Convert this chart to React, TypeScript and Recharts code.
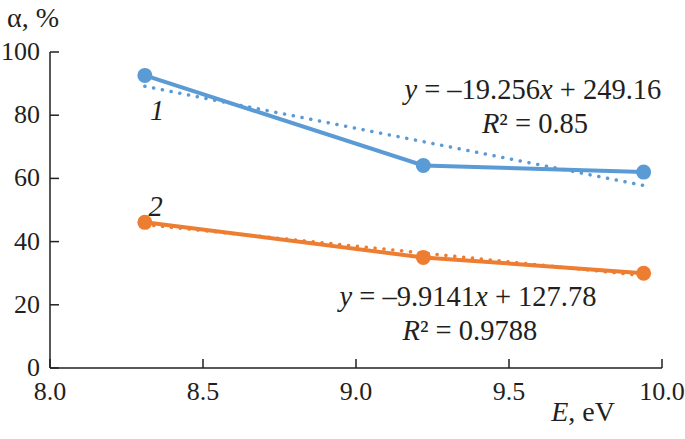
import React from 'react';
import { LineChart, Line, XAxis, YAxis, ReferenceDot } from 'recharts';

const energyBlue = [8.31, 9.22, 9.94];
const alphaBlue = [92.6, 64.1, 62.0];
const energyOrange = [8.31, 9.22, 9.94];
const alphaOrange = [46.1, 35.0, 30.0];
const slopeBlue = -19.256;
const interceptBlue = 249.16;
const slopeOrange = -9.9141;
const interceptOrange = 127.78;
const xTicks = [8.0, 8.5, 9.0, 9.5, 10.0];
const yTicks = [0, 20, 40, 60, 80, 100];

const BLUE = '#5B9BD5';
const ORANGE = '#ED7D31';
const AXIS = '#231F20';
const TXT = '#231F20';
const FONT = "'Liberation Serif', 'Times New Roman', 'DejaVu Serif', serif";
const TS: React.CSSProperties = { fontFamily: FONT, fontSize: 26 };
const AS: React.CSSProperties = { fontFamily: FONT, fontSize: 28.5 };
const LS: React.CSSProperties = { fontFamily: FONT, fontSize: 28 };

const blueData = energyBlue.map((x, i) => ({ x, y: alphaBlue[i] }));
const orangeData = energyOrange.map((x, i) => ({ x, y: alphaOrange[i] }));
const blueEnds = [energyBlue[0], energyBlue[energyBlue.length - 1]];
const orangeEnds = [energyOrange[0], energyOrange[energyOrange.length - 1]];
const blueTrend = blueEnds.map((x) => ({ x, y: slopeBlue * x + interceptBlue }));
const orangeTrend = orangeEnds.map((x) => ({ x, y: slopeOrange * x + interceptOrange }));

const XTick = (props: any) => {
  const { x, y, payload } = props;
  return (
    <g>
      <line x1={x} y1={y} x2={x} y2={y - 9} stroke={AXIS} strokeWidth={1.5} />
      <text x={x} y={y + 32} textAnchor="middle" style={TS} fill={TXT}>
        {Number(payload.value).toFixed(1)}
      </text>
    </g>
  );
};

const YTick = (props: any) => {
  const { x, y, payload } = props;
  return (
    <g>
      <line x1={x} y1={y} x2={x + 9} y2={y} stroke={AXIS} strokeWidth={1.5} />
      <text x={x - 10} y={y + 8} textAnchor="end" style={TS} fill={TXT}>
        {payload.value}
      </text>
    </g>
  );
};

const textShape = (content: React.ReactNode, anchor: string = 'middle') => (p: any) => (
  <text x={p.cx} y={p.cy + 9.5} textAnchor={anchor} style={AS} fill={TXT}>
    {content}
  </text>
);

export default function App() {
  return (
    <div style={{ position: 'absolute', left: 0, top: 0, fontFamily: FONT }}>
      <LineChart width={685} height={439} margin={{ top: 52, right: 23, bottom: 31, left: 0 }} style={{ fontFamily: FONT }}>
        <XAxis
          type="number"
          dataKey="x"
          domain={[8, 10]}
          ticks={xTicks}
          interval={0}
          height={40}
          tickSize={0}
          tickMargin={0}
          tickLine={false}
          tick={<XTick />}
          axisLine={{ stroke: AXIS, strokeWidth: 1.5 }}
          allowDataOverflow
          label={{
            content: (p: any) => (
              <text
                x={p.viewBox.x + p.viewBox.width - 47}
                y={p.viewBox.y + 53}
                textAnchor="end"
                style={LS}
                fill={TXT}
              >
                <tspan fontStyle="italic">E</tspan>, eV
              </text>
            ),
          }}
        />
        <YAxis
          type="number"
          domain={[0, 100]}
          ticks={yTicks}
          interval={0}
          width={50}
          tickSize={0}
          tickMargin={0}
          tickLine={false}
          tick={<YTick />}
          axisLine={{ stroke: AXIS, strokeWidth: 1.5 }}
          label={{
            content: (p: any) => (
              <text x={7} y={p.viewBox.y - 25} textAnchor="start" style={LS} fill={TXT}>
                α, %
              </text>
            ),
          }}
        />
        <Line
          data={blueTrend}
          dataKey="y"
          stroke={BLUE}
          strokeWidth={3.5}
          strokeDasharray="0.1 8.8"
          strokeLinecap="round"
          dot={false}
          activeDot={false}
          isAnimationActive={false}
        />
        <Line
          data={orangeTrend}
          dataKey="y"
          stroke={ORANGE}
          strokeWidth={3.5}
          strokeDasharray="0.1 8.8"
          strokeLinecap="round"
          dot={false}
          activeDot={false}
          isAnimationActive={false}
        />
        <Line
          data={blueData}
          dataKey="y"
          stroke={BLUE}
          strokeWidth={4}
          dot={{ r: 7.5, fill: BLUE, stroke: BLUE, strokeWidth: 0 }}
          activeDot={false}
          isAnimationActive={false}
        />
        <Line
          data={orangeData}
          dataKey="y"
          stroke={ORANGE}
          strokeWidth={4}
          dot={{ r: 7.5, fill: ORANGE, stroke: ORANGE, strokeWidth: 0 }}
          activeDot={false}
          isAnimationActive={false}
        />
        <ReferenceDot
          x={9.578}
          y={88}
          r={1}
          shape={textShape(
            <>
              <tspan fontStyle="italic">y</tspan> = –19.256<tspan fontStyle="italic">x</tspan> + 249.16
            </>
          )}
        />
        <ReferenceDot
          x={9.585}
          y={77.5}
          r={1}
          shape={textShape(
            <>
              <tspan fontStyle="italic">R</tspan>² = 0.85
            </>
          )}
        />
        <ReferenceDot
          x={9.366}
          y={22.5}
          r={1}
          shape={textShape(
            <>
              <tspan fontStyle="italic">y</tspan> = –9.9141<tspan fontStyle="italic">x</tspan> + 127.78
            </>
          )}
        />
        <ReferenceDot
          x={9.372}
          y={12}
          r={1}
          shape={textShape(
            <>
              <tspan fontStyle="italic">R</tspan>² = 0.9788
            </>
          )}
        />
        <ReferenceDot x={8.35} y={81.6} r={1} shape={textShape(<tspan fontStyle="italic">1</tspan>)} />
        <ReferenceDot x={8.345} y={51} r={1} shape={textShape(<tspan fontStyle="italic">2</tspan>)} />
      </LineChart>
    </div>
  );
}
